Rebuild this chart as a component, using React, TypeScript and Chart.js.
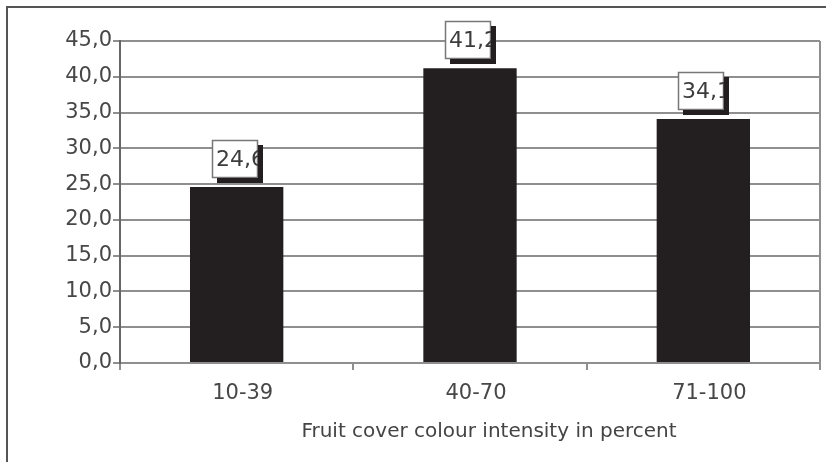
import React, { useEffect, useRef } from "react";
import { Chart, registerables } from "chart.js";

Chart.register(...registerables);

const categories = ["10-39", "40-70", "71-100"];
const values = [24.6, 41.2, 34.1];
const valueLabels = ["24,6", "41,2", "34,1"];
const yMin = 0;
const yMax = 45;
const yStep = 5;
const xTitle = "Fruit cover colour intensity in percent";

const FONT = '"DejaVu Sans", sans-serif';

const decor = {
  id: "decor",
  beforeDraw(chart: any) {
    const ctx = chart.ctx;
    ctx.save();
    ctx.fillStyle = "#ffffff";
    ctx.fillRect(0, 0, chart.width, chart.height);
    ctx.strokeStyle = "#555555";
    ctx.lineWidth = 2;
    ctx.beginPath();
    ctx.moveTo(7, chart.height);
    ctx.lineTo(7, 7);
    ctx.lineTo(chart.width, 7);
    ctx.stroke();
    ctx.restore();
  },
  afterDatasetsDraw(chart: any) {
    const { ctx, chartArea } = chart;
    ctx.save();
    ctx.strokeStyle = "#8f8f8f";
    ctx.lineWidth = 2;
    ctx.beginPath();
    ctx.moveTo(chartArea.right, chartArea.top);
    ctx.lineTo(chartArea.right, chartArea.bottom);
    ctx.stroke();

    const meta = chart.getDatasetMeta(0);
    meta.data.forEach((bar: any, i: number) => {
      const w = 46;
      const h = 38;
      const sh = 5;
      const left = Math.round(bar.x - 25);
      const bottom = Math.round(bar.y - 9);
      const top = bottom - h;
      ctx.fillStyle = "#ffffff";
      ctx.fillRect(left, top, w, h);
      ctx.strokeStyle = "#777777";
      ctx.lineWidth = 1.5;
      ctx.strokeRect(left + 0.5, top + 0.5, w - 1, h - 1);
      ctx.save();
      ctx.beginPath();
      ctx.rect(left, top, w, h);
      ctx.clip();
      ctx.fillStyle = "#3c3c3c";
      ctx.font = `22px ${FONT}`;
      ctx.textAlign = "left";
      ctx.textBaseline = "middle";
      ctx.fillText(valueLabels[i], left + 4, top + h / 2 + 1);
      ctx.restore();
      ctx.fillStyle = "#231f20";
      ctx.fillRect(left + w, top + sh, sh, h);
      ctx.fillRect(left + sh, top + h, w, sh);
    });

    ctx.fillStyle = "#444444";
    ctx.font = `20px ${FONT}`;
    ctx.textAlign = "center";
    ctx.textBaseline = "middle";
    ctx.fillText(xTitle, 489, 432);
    ctx.restore();
  },
};

export default function App() {
  const ref = useRef<HTMLCanvasElement | null>(null);
  useEffect(() => {
    if (!ref.current) return;
    const chart = new Chart(ref.current, {
      type: "bar",
      data: {
        labels: categories,
        datasets: [
          {
            data: values,
            backgroundColor: "#231f20",
            borderWidth: 0,
            categoryPercentage: 1,
            barPercentage: 0.4,
          },
        ],
      },
      plugins: [decor],
      options: {
        responsive: false,
        animation: false,
        layout: { padding: { left: 0, top: 41, right: 6, bottom: 0 } },
        plugins: {
          legend: { display: false },
          tooltip: { enabled: false },
          title: { display: false },
        },
        scales: {
          x: {
            afterFit: (scale: any) => {
              scale.height = 99;
            },
            grid: {
              offset: true,
              drawOnChartArea: false,
              drawTicks: true,
              tickLength: 7,
              color: "#8f8f8f",
              lineWidth: 2,
            },
            border: { display: true, color: "#8f8f8f", width: 2 },
            ticks: {
              color: "#474747",
              font: { family: FONT, size: 21 },
              padding: 11,
              labelOffset: 6,
              maxRotation: 0,
            },
          },
          y: {
            min: yMin,
            max: yMax,
            afterFit: (scale: any) => {
              scale.width = 120;
            },
            grid: {
              color: "#8f8f8f",
              lineWidth: 2,
              tickLength: 7,
            },
            border: { display: true, color: "#666666", width: 2 },
            ticks: {
              stepSize: yStep,
              color: "#474747",
              font: { family: FONT, size: 21 },
              padding: 1,
              callback: (v: any) => Number(v).toFixed(1).replace(".", ","),
            },
          },
        },
      },
    });
    return () => chart.destroy();
  }, []);
  return (
    <div style={{ position: "fixed", left: 0, top: 0, width: 826, height: 462 }}>
      <canvas ref={ref} width={826} height={462} style={{ display: "block" }} />
    </div>
  );
}
